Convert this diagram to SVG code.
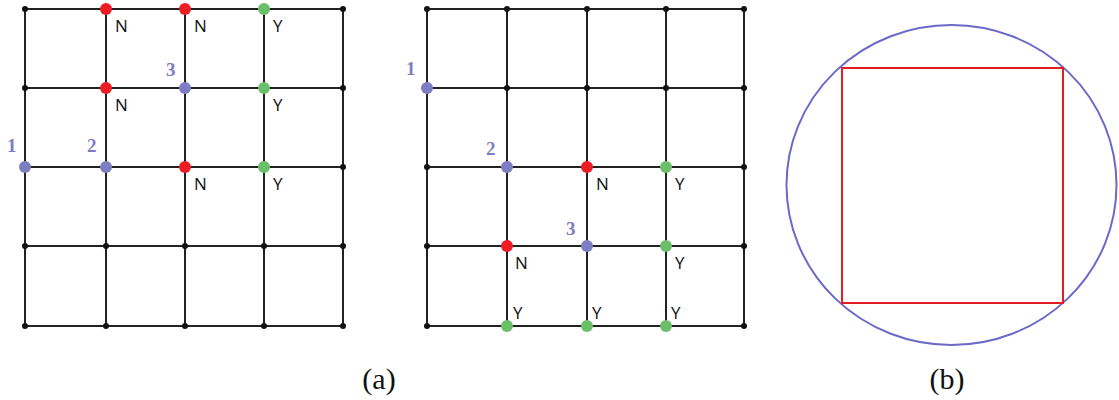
<svg xmlns="http://www.w3.org/2000/svg" width="1119" height="400" viewBox="0 0 1119 400">
<style>
.g line{stroke:#222;stroke-width:2}
.k{fill:#111}
.r{fill:#ee1c24}
.gr{fill:#6cbf6a}
.b{fill:#7d7dc2}
.lab{font-family:"Open Sans","Liberation Sans",sans-serif;font-size:17px;fill:#111}
.num{font-family:"Liberation Serif",serif;font-weight:bold;font-size:19px;fill:#7d7dc2}
.cap{font-family:"Liberation Serif",serif;font-size:30px;fill:#111;text-anchor:middle}
</style>
<g id="connectors">
<g class="g" id="grid-a-lines">
<line x1="25" y1="9" x2="343" y2="9"/><line x1="25" y1="88" x2="343" y2="88"/><line x1="25" y1="167" x2="343" y2="167"/><line x1="25" y1="246" x2="343" y2="246"/><line x1="25" y1="326" x2="343" y2="326"/>
<line x1="25" y1="9" x2="25" y2="326"/><line x1="106" y1="9" x2="106" y2="326"/><line x1="185" y1="9" x2="185" y2="326"/><line x1="264" y1="9" x2="264" y2="326"/><line x1="343" y1="9" x2="343" y2="326"/>
</g>
<g class="g" id="grid-b-lines">
<line x1="427" y1="9" x2="744" y2="9"/><line x1="427" y1="88" x2="744" y2="88"/><line x1="427" y1="167" x2="744" y2="167"/><line x1="427" y1="246" x2="744" y2="246"/><line x1="427" y1="326" x2="744" y2="326"/>
<line x1="427" y1="9" x2="427" y2="326"/><line x1="507" y1="9" x2="507" y2="326"/><line x1="587" y1="9" x2="587" y2="326"/><line x1="666" y1="9" x2="666" y2="326"/><line x1="744" y1="9" x2="744" y2="326"/>
</g>
</g>
<g id="grid-a-nodes">
<circle class="k" cx="25" cy="9" r="3"/><circle class="r" cx="106" cy="9" r="6"/><circle class="r" cx="185" cy="9" r="6"/><circle class="gr" cx="264" cy="9" r="6"/><circle class="k" cx="343" cy="9" r="3"/>
<circle class="k" cx="25" cy="88" r="3"/><circle class="r" cx="106" cy="88" r="6"/><circle class="b" cx="185" cy="88" r="6"/><circle class="gr" cx="264" cy="88" r="6"/><circle class="k" cx="343" cy="88" r="3"/>
<circle class="b" cx="25" cy="167" r="6"/><circle class="b" cx="106" cy="167" r="6"/><circle class="r" cx="185" cy="167" r="6"/><circle class="gr" cx="264" cy="167" r="6"/><circle class="k" cx="343" cy="167" r="3"/>
<circle class="k" cx="25" cy="246" r="3"/><circle class="k" cx="106" cy="246" r="3"/><circle class="k" cx="185" cy="246" r="3"/><circle class="k" cx="264" cy="246" r="3"/><circle class="k" cx="343" cy="246" r="3"/>
<circle class="k" cx="25" cy="326" r="3"/><circle class="k" cx="106" cy="326" r="3"/><circle class="k" cx="185" cy="326" r="3"/><circle class="k" cx="264" cy="326" r="3"/><circle class="k" cx="343" cy="326" r="3"/>
<text class="lab" x="115" y="32">N</text><text class="lab" x="194" y="32">N</text><text class="lab" x="273" y="32">Y</text>
<text class="lab" x="115" y="111">N</text><text class="lab" x="273" y="111">Y</text>
<text class="lab" x="194" y="190">N</text><text class="lab" x="273" y="190">Y</text>
<text class="num" x="7" y="152">1</text><text class="num" x="87" y="152">2</text><text class="num" x="166" y="76">3</text>
</g>
<g id="grid-b-nodes">
<circle class="k" cx="427" cy="9" r="3"/><circle class="k" cx="507" cy="9" r="3"/><circle class="k" cx="587" cy="9" r="3"/><circle class="k" cx="666" cy="9" r="3"/><circle class="k" cx="744" cy="9" r="3"/>
<circle class="b" cx="427" cy="88" r="6"/><circle class="k" cx="507" cy="88" r="3"/><circle class="k" cx="587" cy="88" r="3"/><circle class="k" cx="666" cy="88" r="3"/><circle class="k" cx="744" cy="88" r="3"/>
<circle class="k" cx="427" cy="167" r="3"/><circle class="b" cx="507" cy="167" r="6"/><circle class="r" cx="587" cy="167" r="6"/><circle class="gr" cx="666" cy="167" r="6"/><circle class="k" cx="744" cy="167" r="3"/>
<circle class="k" cx="427" cy="246" r="3"/><circle class="r" cx="507" cy="246" r="6"/><circle class="b" cx="587" cy="246" r="6"/><circle class="gr" cx="666" cy="246" r="6"/><circle class="k" cx="744" cy="246" r="3"/>
<circle class="k" cx="427" cy="326" r="3"/><circle class="gr" cx="507" cy="326" r="6"/><circle class="gr" cx="587" cy="326" r="6"/><circle class="gr" cx="666" cy="326" r="6"/><circle class="k" cx="744" cy="326" r="3"/>
<text class="lab" x="596" y="190">N</text><text class="lab" x="675" y="190">Y</text>
<text class="lab" x="515" y="269">N</text><text class="lab" x="675" y="269">Y</text>
<text class="lab" x="513" y="319">Y</text><text class="lab" x="592" y="319">Y</text><text class="lab" x="671" y="319">Y</text>
<text class="num" x="406" y="75">1</text><text class="num" x="486" y="155">2</text><text class="num" x="566" y="235">3</text>
</g>
<g id="circle-square">
<ellipse cx="951.5" cy="185" rx="165" ry="160" fill="none" stroke="#6a6ac8" stroke-width="2"/>
<rect x="842" y="68" width="221" height="235" fill="none" stroke="#e01e24" stroke-width="2"/>
</g>
<text class="cap" x="379" y="389">(a)</text>
<text class="cap" x="947" y="389">(b)</text>
</svg>
